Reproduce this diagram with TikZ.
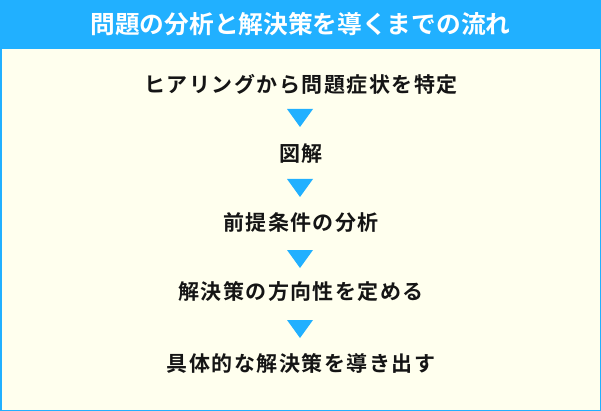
\documentclass[tikz,border=0pt]{standalone}
\usepackage{fontspec}
\newfontfamily\jpbold[LetterSpace=7]{Noto Sans CJK JP Bold}
\newfontfamily\jptitle{Noto Sans CJK JP Bold}
\definecolor{hblue}{HTML}{21B0FF}
\definecolor{cream}{HTML}{FFFFEE}
\definecolor{ink}{HTML}{151515}
\tikzset{
  stepbox/.style={font=\jpbold\fontsize{21pt}{21pt}\selectfont, text=ink, inner sep=0pt, anchor=center},
  arrowtri/.style={fill=hblue, draw=none},
}
\begin{document}
\begin{tikzpicture}[x=1pt,y=1pt]
\useasboundingbox (0,0) rectangle (601,-411);
\fill[cream] (0,0) rectangle (601,-411);
\fill[hblue] (0,0) rectangle (601,-49);
\draw[hblue, line width=3pt] (0,0) rectangle (601,-411);
\node[font=\jptitle\fontsize{24.7pt}{24.7pt}\selectfont, text=white, inner sep=0pt] (title) at (300.5,-24) {問題の分析と解決策を導くまでの流れ};
\node[stepbox] (s1) at (301,-84) {ヒアリングから問題症状を特定};
\node[stepbox] (s2) at (301,-154) {図解};
\node[stepbox] (s3) at (301,-223) {前提条件の分析};
\node[stepbox] (s4) at (301,-292) {解決策の方向性を定める};
\node[stepbox] (s5) at (301,-363) {具体的な解決策を導き出す};
\foreach \t in {109,179,250,320}{
  \fill[arrowtri] (287,-\t) -- (313,-\t) -- (300,-\t-18) -- cycle;
}
\end{tikzpicture}
\end{document}
